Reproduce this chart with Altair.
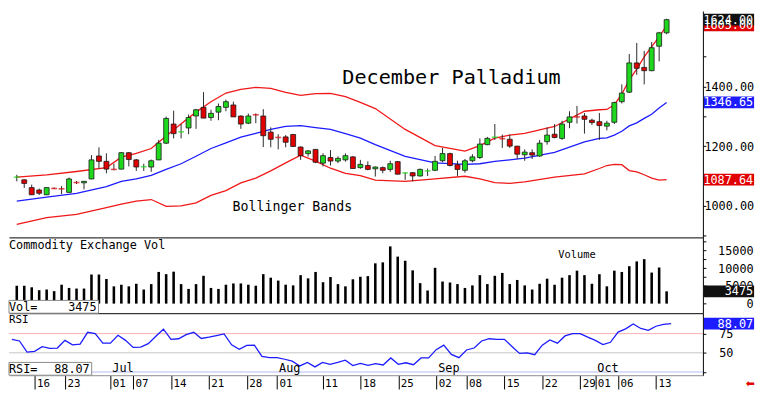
import altair as alt
import pandas as pd

# ---------------- data ----------------
opens = [1094,1087,1061,1053,1037,1059,1059,1045,1080,1077,
         1090,1167,1149,1124,1123,1178,1154,1128,1130,1154,
         1210,1274,1246,1261,1301,1330,1296,1314,1330,1338,
         1301,1277,1308,1301,1247,1231,1231,1239,1197,1175,
         1189,1143,1162,1150,1154,1164,1128,1135,1124,1128,
         1122,1148,1108,1111,1100,1115,1119,1151,1175,1138,
         1119,1151,1162,1205,1228,1228,1223,1200,1171,1178,
         1167,1215,1240,1226,1280,1300,1301,1287,1282,1267,
         1280,1349,1381,1479,1464,1453,1535,1580]
highs = [1104,1088,1071,1058,1062,1062,1066,1095,1083,1083,
         1170,1196,1176,1141,1180,1180,1157,1141,1155,1221,
         1299,1319,1274,1306,1325,1381,1322,1343,1356,1349,
         1303,1309,1310,1324,1263,1240,1237,1241,1199,1187,
         1189,1176,1187,1166,1176,1166,1154,1149,1132,1132,
         1151,1150,1112,1113,1125,1125,1167,1194,1178,1151,
         1157,1173,1226,1231,1274,1239,1239,1200,1189,1189,
         1221,1263,1274,1285,1317,1335,1311,1292,1311,1285,
         1349,1407,1509,1546,1519,1549,1583,1627]
lows = [1082,1060,1036,1036,1036,1056,1039,1044,1073,1055,
        1089,1125,1109,1119,1122,1132,1117,1117,1114,1153,
        1207,1226,1226,1240,1258,1294,1285,1287,1317,1298,
        1258,1274,1277,1197,1196,1189,1196,1197,1154,1165,
        1143,1132,1135,1143,1148,1124,1124,1119,1098,1109,
        1114,1105,1087,1082,1098,1100,1117,1146,1132,1100,
        1111,1146,1157,1203,1221,1194,1194,1157,1151,1157,
        1164,1205,1226,1221,1260,1276,1242,1271,1221,1253,
        1274,1343,1378,1439,1407,1451,1484,1575]
closes = [1096,1075,1037,1042,1061,1058,1057,1090,1078,1082,
          1154,1149,1123,1122,1178,1155,1130,1131,1151,1210,
          1293,1242,1248,1296,1322,1294,1310,1333,1349,1298,
          1274,1301,1305,1235,1223,1229,1213,1199,1168,1184,
          1146,1168,1150,1159,1168,1125,1139,1122,1130,1119,
          1141,1106,1110,1100,1122,1117,1149,1175,1135,1122,
          1151,1164,1207,1226,1230,1225,1200,1173,1180,1170,
          1210,1237,1229,1274,1298,1298,1290,1279,1269,1277,
          1346,1378,1479,1461,1453,1530,1580,1624]
volumes = [5080,5080,4620,3800,3990,3530,5350,4440,4260,4260,
           8240,8240,6980,4890,5350,4890,5620,3990,5520,8970,
           8340,9050,5520,4160,5520,7880,4440,4160,5350,5710,
           5710,5350,5080,8340,7340,6520,5350,5160,8060,7150,
           8970,6060,7520,5520,4890,6890,7610,7790,11410,11680,
           16210,13310,12140,9420,5800,3710,10140,6250,5980,5530,
           4440,5160,8060,5530,7880,8690,5530,6700,5160,3990,
           5620,7060,5340,7340,8060,9330,8060,5620,8330,4890,
           9330,8970,10600,11950,12590,8790,10230,3475]
rsi_values = [67.5,65.4,50.8,52,57.9,55.8,56.2,66.2,60.4,61.2,
              76.7,75,62.5,62.5,72.9,66.2,57,57.5,62,71.6,
              80.8,67.5,68.3,73.7,76.7,68.7,70.4,72.5,74.6,60.4,
              54.5,59.6,60,45.4,43.7,43.7,41.6,39.1,32.9,37.5,
              31.6,37.5,35,37.5,40.4,33.3,36.3,33.7,35.8,34.1,
              43.3,35,37,34.5,43.3,43.3,54.1,60,47.9,43.7,
              53.7,56.2,65.4,68.3,67.5,67.5,58.3,49.2,50,47.5,
              60,66.7,62.5,72,75,75,70.4,66.2,60.8,63.7,
              77,81.2,87.5,81.7,79.2,84.6,87.1,88.07]

band_idx = [0,4,8,12,14,16,18,20,22,24,26,28,30,32,34,36,38,40,42,44,46,48,
            52,56,60,62,64,66,68,72,76,78,79,80,81,82,83,84,85,86,87]
band_upper = [1096,1104,1115,1128,1163,1176,1192,1234,1275,1314,1349,1378,1390,1397,1394,1380,1370,1376,1377,1366,1347,1326,
              1256,1202,1183,1202,1227,1237,1243,1266,1317,1322,1323,1339,1374,1422,1458,1499,1534,1566,1605]
band_middle = [1016,1029,1042,1064,1082,1090,1102,1122,1141,1166,1192,1211,1230,1243,1256,1266,1269,1262,1256,1242,1227,1205,
               1166,1144,1139,1141,1149,1154,1160,1179,1214,1226,1228,1237,1250,1268,1278,1293,1307,1328,1346.65]
band_lower = [938,960,971,994,1006,1016,1021,998,1000,1010,1035,1051,1077,1093,1117,1144,1170,1150,1126,1109,1101,1086,
              1082,1090,1099,1090,1078,1075,1080,1096,1107,1125,1135,1139,1138,1118,1114,1104,1093,1086,1087.64]

date_tick_idx = [3,7,13,16,21,26,31,35,41,46,51,56,60,65,70,75,77,80,85]
date_tick_labels = ["16","23","01","07","14","21","28","01","11","18","25",
                    "02","08","15","22","29","01","06","13"]
month_idx = [13,35,56,77]
month_labels = ["Jul","Aug","Sep","Oct"]

price_ticks = [900,1000,1100,1200,1300,1400,1500,1600]
price_labels = [1000,1200,1400]
vol_ticks = [0,2500,5000,7500,10000,12500,15000,17500]
vol_labels = [0,5000,10000,15000]
rsi_ticks = [25,50,75]
rsi_labels = [50,75]

# ---------------- layout / style ----------------
W = 705
H_MAIN, H_VOL, H_RSI = 230, 77, 63
MONO = "DejaVu Sans Mono"
GREEN = "#1ed81e"
RED = "#e00000"
BAND_RED = "#f01818"
BLUE = "#1c1cff"

n = len(opens)
cd = pd.DataFrame({"i": list(range(n)), "o": opens, "h": highs, "l": lows, "c": closes})
cd["lo"] = cd[["o", "c"]].min(axis=1)
cd["hi"] = cd[["o", "c"]].max(axis=1)
cd["col"] = [GREEN if c >= o else RED for o, c in zip(opens, closes)]
cd["doji"] = (cd["hi"] - cd["lo"]) < 4

bands = pd.concat([
    pd.DataFrame({"i": band_idx, "v": band_upper, "band": "upper", "col": BAND_RED}),
    pd.DataFrame({"i": band_idx, "v": band_middle, "band": "middle", "col": BLUE}),
    pd.DataFrame({"i": band_idx, "v": band_lower, "band": "lower", "col": BAND_RED}),
])

xs = alt.Scale(domain=[-0.384, 91.2], nice=False, zero=False)


def x_enc(field="i", axis=None):
    if axis is None:
        axis = alt.Axis(labels=False, ticks=False, domain=True, domainColor="black",
                        domainWidth=1, grid=False, title=None)
    return alt.X(f"{field}:Q", scale=xs, axis=axis)


def label_expr(vals, fmt):
    cond = " || ".join(f"datum.value == {v}" for v in vals)
    return f"({cond}) ? format(datum.value, '{fmt}') : ''"


# ---------- main price panel ----------
ys_main = alt.Scale(domain=[894, 1653], nice=False, zero=False)
ax_main = alt.Axis(orient="right", values=price_ticks, labelExpr=label_expr(price_labels, ".2f"),
                   tickSize=3, tickColor="black", labelPadding=-2, labelAlign="left",
                   labelFont=MONO, labelFontSize=12, labelColor="black", labelOverlap=False,
                   domainColor="black", grid=False, title=None)


def y_main(field):
    return alt.Y(f"{field}:Q", scale=ys_main, axis=ax_main)


band_lines = alt.Chart(bands).mark_line(strokeWidth=1.3).encode(
    x=x_enc(), y=y_main("v"),
    color=alt.Color("col:N", scale=None),
    detail="band:N")

wicks = alt.Chart(cd).mark_rule(color="#2a2a2a", strokeWidth=1).encode(
    x=x_enc(), y=y_main("l"), y2="h:Q")

bodies = alt.Chart(cd).transform_filter("!datum.doji").mark_bar(
    width=5, stroke="#1a1a1a", strokeWidth=0.8).encode(
    x=x_enc(), y=y_main("lo"), y2="hi:Q",
    fill=alt.Fill("col:N", scale=None))

dojis = alt.Chart(cd).transform_filter("datum.doji").mark_tick(
    orient="horizontal", size=6, thickness=1.6).encode(
    x=x_enc(), y=y_main("c"),
    color=alt.Color("col:N", scale=None))

titles = pd.DataFrame({"i": [58.2, 36.9], "v": [1429, 997],
                       "t": ["December Palladium", "Bollinger Bands"]})
title_text = alt.Chart(titles.iloc[[0]]).mark_text(
    font=MONO, fontSize=20.5, align="center", baseline="middle", color="black").encode(
    x=x_enc(), y=y_main("v"), text="t:N")
bb_text = alt.Chart(titles.iloc[[1]]).mark_text(
    font=MONO, fontSize=13.5, align="center", baseline="middle", color="black").encode(
    x=x_enc(), y=y_main("v"), text="t:N")

main_boxes = pd.DataFrame({"v": [1605, 1624, 1346.65, 1087.64],
                           "label": ["1605.00", "1624.00", "1346.65", "1087.64"],
                           "bg": [RED, "#111111", BLUE, RED]})
box_rules = alt.Chart(main_boxes).mark_rule(strokeWidth=12).encode(
    x=alt.value(W + 1), x2=alt.value(W + 52), y=y_main("v"),
    color=alt.Color("bg:N", scale=None))
box_text = alt.Chart(main_boxes).mark_text(
    font=MONO, fontSize=12, align="right", baseline="middle", color="white").encode(
    x=alt.value(W + 51), y=y_main("v"), text="label:N")

main = alt.layer(band_lines, wicks, bodies, dojis, title_text, bb_text, box_rules, box_text
                 ).properties(width=W, height=H_MAIN)

# ---------- volume panel ----------
vd = pd.DataFrame({"i": list(range(n)), "vol": volumes, "z": 0})
ys_vol = alt.Scale(domain=[-2717, 18750], nice=False, zero=False)
ax_vol = alt.Axis(orient="right", values=vol_ticks, labelExpr=label_expr(vol_labels, "d"),
                  tickSize=3, tickColor="black", labelPadding=48, labelAlign="right",
                  labelFont=MONO, labelFontSize=12, labelColor="black", labelOverlap=False,
                  domainColor="black", grid=False, title=None)


def y_vol(field):
    return alt.Y(f"{field}:Q", scale=ys_vol, axis=ax_vol)


vol_bars = alt.Chart(vd).mark_bar(width=2.6, color="black").encode(
    x=x_enc(), y=y_vol("vol"), y2="z:Q")

vol_title = alt.Chart(pd.DataFrame({"t": ["Commodity Exchange Vol"]})).mark_text(
    font=MONO, fontSize=12, align="left", baseline="middle", color="black").encode(
    x=alt.value(0), y=alt.value(8), text="t:N")
vol_word = alt.Chart(pd.DataFrame({"i": [75.0], "v": [13700], "t": ["Volume"]})).mark_text(
    font=MONO, fontSize=10.5, align="center", baseline="middle", color="black").encode(
    x=x_enc(), y=y_vol("v"), text="t:N")

vol_box_df = pd.DataFrame({"v": [3475], "label": ["3475"]})
vol_box = alt.Chart(vol_box_df).mark_rule(strokeWidth=12, color="#111111").encode(
    x=alt.value(W + 1), x2=alt.value(W + 52), y=y_vol("v"))
vol_box_text = alt.Chart(vol_box_df).mark_text(
    font=MONO, fontSize=12, align="right", baseline="middle", color="white").encode(
    x=alt.value(W + 51), y=y_vol("v"), text="label:N")

one = pd.DataFrame({"a": [0]})
vol_readout_rect = alt.Chart(one).mark_rect(fill="white", stroke="#8a8a8a", strokeWidth=1).encode(
    x=alt.value(0), x2=alt.value(91), y=alt.value(H_VOL - 13), y2=alt.value(H_VOL))
vol_readout_a = alt.Chart(pd.DataFrame({"t": ["Vol="]})).mark_text(
    font=MONO, fontSize=12, align="left", baseline="middle", color="black").encode(
    x=alt.value(0), y=alt.value(H_VOL - 6), text="t:N")
vol_readout_b = alt.Chart(pd.DataFrame({"t": ["3475"]})).mark_text(
    font=MONO, fontSize=12, align="right", baseline="middle", color="black").encode(
    x=alt.value(89), y=alt.value(H_VOL - 6), text="t:N")

vol = alt.layer(vol_bars, vol_title, vol_word, vol_box, vol_box_text,
                vol_readout_rect, vol_readout_a, vol_readout_b).properties(width=W, height=H_VOL)

# ---------- RSI panel ----------
rd = pd.DataFrame({"i": list(range(n)), "r": rsi_values})
ys_rsi = alt.Scale(domain=[20.8, 101.6], nice=False, zero=False)
ax_rsi = alt.Axis(orient="right", values=rsi_ticks, labelExpr=label_expr(rsi_labels, "d"),
                  tickSize=3, tickColor="black", labelPadding=13, labelAlign="left",
                  labelFont=MONO, labelFontSize=12, labelColor="black", labelOverlap=False,
                  domainColor="black", grid=False, title=None)

lab_arr = "[" + ",".join(f"'{s}'" for s in date_tick_labels) + "]"
idx_arr = "[" + ",".join(str(v) for v in date_tick_idx) + "]"
ax_date = alt.Axis(values=date_tick_idx, labelExpr=f"{lab_arr}[indexof({idx_arr}, datum.value)]",
                   tickSize=14, tickColor="black", tickWidth=1, labelAlign="left",
                   labelBaseline="top", labelPadding=-12, labelOffset=2, labelFlush=False,
                   labelOverlap=False, labelFont=MONO, labelFontSize=11, labelColor="black",
                   domainColor="#8c8c8c", grid=False, title=None)


def y_rsi(field):
    return alt.Y(f"{field}:Q", scale=ys_rsi, axis=ax_rsi)


levels = pd.DataFrame({"v": [25, 50, 75], "col": ["#b4bcf4", "#c4c4c4", "#f6b0b0"]})
rsi_levels = alt.Chart(levels).mark_rule(strokeWidth=1).encode(
    y=y_rsi("v"), color=alt.Color("col:N", scale=None))
rsi_line = alt.Chart(rd).mark_line(color=BLUE, strokeWidth=1.3).encode(
    x=x_enc(axis=ax_date), y=y_rsi("r"))

months = pd.DataFrame({"i": month_idx, "t": month_labels})
month_text = alt.Chart(months).mark_text(
    font=MONO, fontSize=12, align="left", baseline="alphabetic", dx=2, color="black").encode(
    x=x_enc(axis=ax_date), y=alt.value(H_RSI - 3), text="t:N")

rsi_title = alt.Chart(pd.DataFrame({"t": ["RSI"]})).mark_text(
    font=MONO, fontSize=11, align="left", baseline="middle", color="black").encode(
    x=alt.value(0), y=alt.value(7), text="t:N")

rsi_box_df = pd.DataFrame({"v": [88.07], "label": ["88.07"]})
rsi_box = alt.Chart(rsi_box_df).mark_rule(strokeWidth=12, color=BLUE).encode(
    x=alt.value(W + 1), x2=alt.value(W + 52), y=y_rsi("v"))
rsi_box_text = alt.Chart(rsi_box_df).mark_text(
    font=MONO, fontSize=12, align="right", baseline="middle", color="white").encode(
    x=alt.value(W + 51), y=y_rsi("v"), text="label:N")

rsi_readout_rect = alt.Chart(one).mark_rect(fill="white", stroke="#8a8a8a", strokeWidth=1).encode(
    x=alt.value(0), x2=alt.value(84), y=alt.value(H_RSI - 13), y2=alt.value(H_RSI))
rsi_readout_a = alt.Chart(pd.DataFrame({"t": ["RSI="]})).mark_text(
    font=MONO, fontSize=12, align="left", baseline="middle", color="black").encode(
    x=alt.value(0), y=alt.value(H_RSI - 6), text="t:N")
rsi_readout_b = alt.Chart(pd.DataFrame({"t": ["88.07"]})).mark_text(
    font=MONO, fontSize=12, align="right", baseline="middle", color="black").encode(
    x=alt.value(82), y=alt.value(H_RSI - 6), text="t:N")

arrow = alt.Chart(pd.DataFrame({"t": ["⬅"]})).mark_text(
    font="DejaVu Sans", fontSize=11, align="center", baseline="middle", color="#e00000").encode(
    x=alt.value(W + 48), y=alt.value(H_RSI + 9), text="t:N")

rsi = alt.layer(rsi_levels, rsi_line, month_text, rsi_title, rsi_box, rsi_box_text,
                rsi_readout_rect, rsi_readout_a, rsi_readout_b, arrow
                ).properties(width=W, height=H_RSI)

chart = alt.vconcat(main, vol, rsi, spacing=0, bounds="flush").properties(
    padding={"left": 0, "top": 0, "right": 0, "bottom": 0},
    background="white",
).configure_view(strokeWidth=0)

chart.save("out.html", embed_options={"renderer": "svg", "actions": False})
